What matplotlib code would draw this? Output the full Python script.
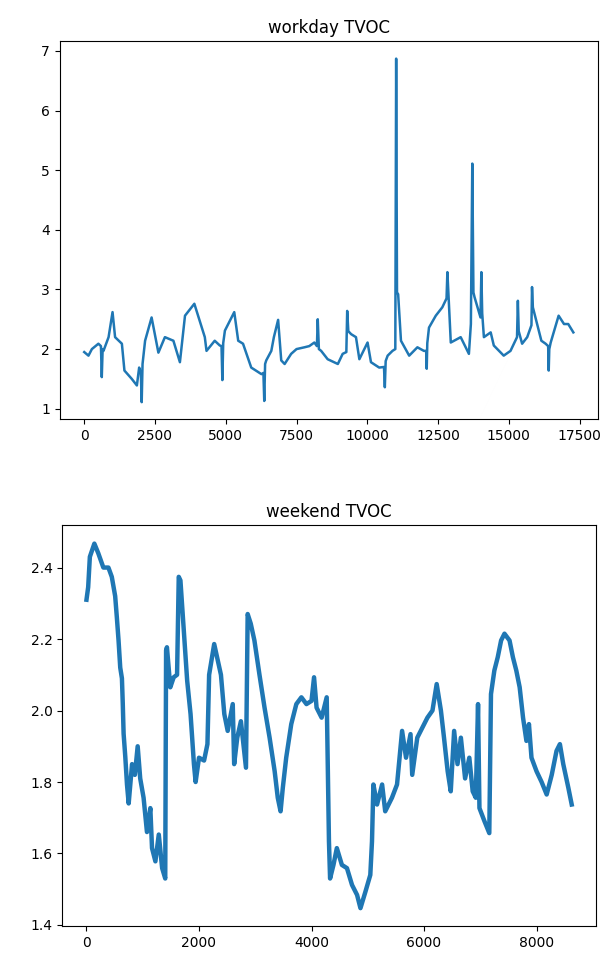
import matplotlib
matplotlib.use("Agg")
import matplotlib.pyplot as plt

# ---- workday TVOC (traced) ----
workday_t = [0, 150, 270, 500, 590, 620, 650, 680, 860, 1000, 1090, 1330, 1420, 1680, 1860, 1940, 2000,
             2030, 2060, 2150, 2380, 2620, 2850, 3150, 3380, 3560, 3890, 4260, 4320, 4610, 4790, 4850,
             4880, 4910, 4970, 5300, 5440, 5610, 5900, 6260, 6330, 6360, 6390, 6430, 6610, 6700, 6850,
             6960, 7080, 7310, 7500, 7780, 7950, 8130, 8220, 8250, 8290, 8370, 8600, 8960, 9130, 9260,
             9290, 9330, 9430, 9600, 9720, 10010, 10130, 10420, 10590, 10620, 10650, 10720, 10890, 10990,
             11020, 11050, 11090, 11190, 11480, 11770, 12000, 12080, 12100, 12120, 12180, 12420,
             12650, 12800, 12830, 12870, 12950, 13300, 13590, 13660, 13710, 13750, 13790, 14000, 14030,
             14060, 14120, 14360, 14470, 14820, 15060, 15180, 15290, 15320, 15350, 15470, 15650, 15800,
             15820, 15850, 16000, 16150, 16300, 16390, 16410, 16430, 16480, 16760, 16950, 17100, 17280]
workday_v = [1.95, 1.89, 2.00, 2.09, 2.05, 1.53, 2.00, 1.97, 2.20, 2.62, 2.20, 2.09, 1.64, 1.50, 1.39, 1.69,
             1.60, 1.11, 1.75, 2.14, 2.53, 1.94, 2.20, 2.14, 1.78, 2.56, 2.76, 2.20, 1.97, 2.14, 2.06,
             2.05, 1.48, 2.10, 2.31, 2.62, 2.14, 2.09, 1.69, 1.58, 1.60, 1.13, 1.75, 1.81, 1.97, 2.20,
             2.49, 1.81, 1.75, 1.92, 2.00, 2.03, 2.05, 2.11, 2.05, 2.50, 2.00, 1.97, 1.83, 1.75,
             1.92, 1.95, 2.64, 2.30, 2.25, 2.20, 1.83, 2.11, 1.78, 1.69, 1.70, 1.36, 1.80, 1.89,
             1.97, 2.00, 6.87, 2.95, 2.92, 2.14, 1.89, 2.03, 1.97, 1.97, 1.67, 2.10, 2.36, 2.56,
             2.70, 2.85, 3.29, 2.90, 2.11, 2.20, 1.92, 2.42, 5.11, 2.95, 2.87, 2.53, 3.29,
             2.60, 2.20, 2.28, 2.06, 1.89, 1.97, 2.09, 2.20, 2.81, 2.30, 2.09, 2.20, 2.40,
             3.04, 2.70, 2.42, 2.14, 2.09, 2.05, 1.64, 2.00, 2.11, 2.56, 2.42, 2.42, 2.28]

# ---- weekend TVOC (traced) ----
weekend_t = [0, 30, 60, 140, 210, 300, 390, 450, 510, 540, 570, 600, 630, 645, 660, 690, 720, 750,
             810, 860, 910, 955, 1015, 1075, 1135, 1165, 1225, 1285, 1345, 1400, 1415, 1430, 1490,
             1550, 1610, 1640, 1670, 1730, 1790, 1850, 1910, 1940, 2000, 2090, 2150, 2180, 2270,
             2320, 2390, 2450, 2510, 2600, 2625, 2680, 2745, 2835, 2865, 2920, 2985, 3075, 3165,
             3255, 3345, 3400, 3450, 3490, 3550, 3640, 3730, 3820, 3910, 4000, 4045, 4090, 4180,
             4270, 4310, 4330, 4390, 4450, 4540, 4630, 4720, 4810, 4870, 4960, 5045, 5075, 5100,
             5165, 5255, 5310, 5430, 5520, 5610, 5680, 5760, 5790, 5880, 5970, 6060, 6150, 6225,
             6300, 6355, 6420, 6475, 6535, 6595, 6655, 6730, 6805, 6865, 6920, 6960, 6985, 7075,
             7160, 7190, 7250, 7310, 7370, 7430, 7520, 7580, 7640, 7700, 7760, 7820, 7865, 7910,
             8000, 8090, 8180, 8270, 8355, 8415, 8475, 8565, 8625]
weekend_v = [2.31, 2.345, 2.43, 2.467, 2.44, 2.40, 2.40, 2.374, 2.32, 2.26, 2.196, 2.12, 2.09, 2.02,
             1.935, 1.87, 1.793, 1.74, 1.85, 1.82, 1.90, 1.81, 1.756, 1.66, 1.727, 1.615, 1.578,
             1.653, 1.559, 1.53, 2.168, 2.177, 2.065, 2.093, 2.10, 2.374, 2.364, 2.224, 2.083,
             1.99, 1.85, 1.80, 1.868, 1.86, 1.906, 2.10, 2.186, 2.15, 2.10, 1.99, 1.943, 2.018,
             1.85, 1.924, 1.97, 1.84, 2.27, 2.243, 2.196, 2.10, 2.008, 1.924, 1.83, 1.756, 1.718,
             1.784, 1.868, 1.962, 2.018, 2.037, 2.018, 2.027, 2.093, 2.008, 1.98, 2.037, 1.634,
             1.53, 1.568, 1.615, 1.568, 1.559, 1.512, 1.484, 1.447, 1.494, 1.54, 1.634, 1.793,
             1.737, 1.793, 1.718, 1.756, 1.793, 1.943, 1.868, 1.934, 1.82, 1.924, 1.952, 1.98,
             2.00, 2.074, 2.00, 1.924, 1.83, 1.774, 1.943, 1.85, 1.924, 1.81, 1.868, 1.774,
             1.756, 2.018, 1.727, 1.69, 1.657, 2.046, 2.112, 2.149, 2.196, 2.215, 2.196, 2.149,
             2.112, 2.065, 1.98, 1.915, 1.962, 1.868, 1.83, 1.80, 1.765, 1.82, 1.887, 1.906,
             1.85, 1.784, 1.737]

color = "#1f77b4"
fig = plt.figure(figsize=(6.1, 9.64), dpi=100)

ax1 = fig.add_axes([0.098, 0.565, 0.882, 0.392])
ax1.plot(workday_t, workday_v, color=color, lw=1.8)
ax1.set_title("workday TVOC", fontsize=12)
ax1.set_yticks([1, 2, 3, 4, 5, 6, 7])
ax1.set_xticks([0, 2500, 5000, 7500, 10000, 12500, 15000, 17500])

ax2 = fig.add_axes([0.102, 0.039, 0.875, 0.416])
ax2.plot(weekend_t, weekend_v, color=color, lw=3.2)
ax2.set_title("weekend TVOC", fontsize=12)
ax2.set_yticks([1.4, 1.6, 1.8, 2.0, 2.2, 2.4])
ax2.set_xticks([0, 2000, 4000, 6000, 8000])

fig.savefig("out.png", dpi=100)
